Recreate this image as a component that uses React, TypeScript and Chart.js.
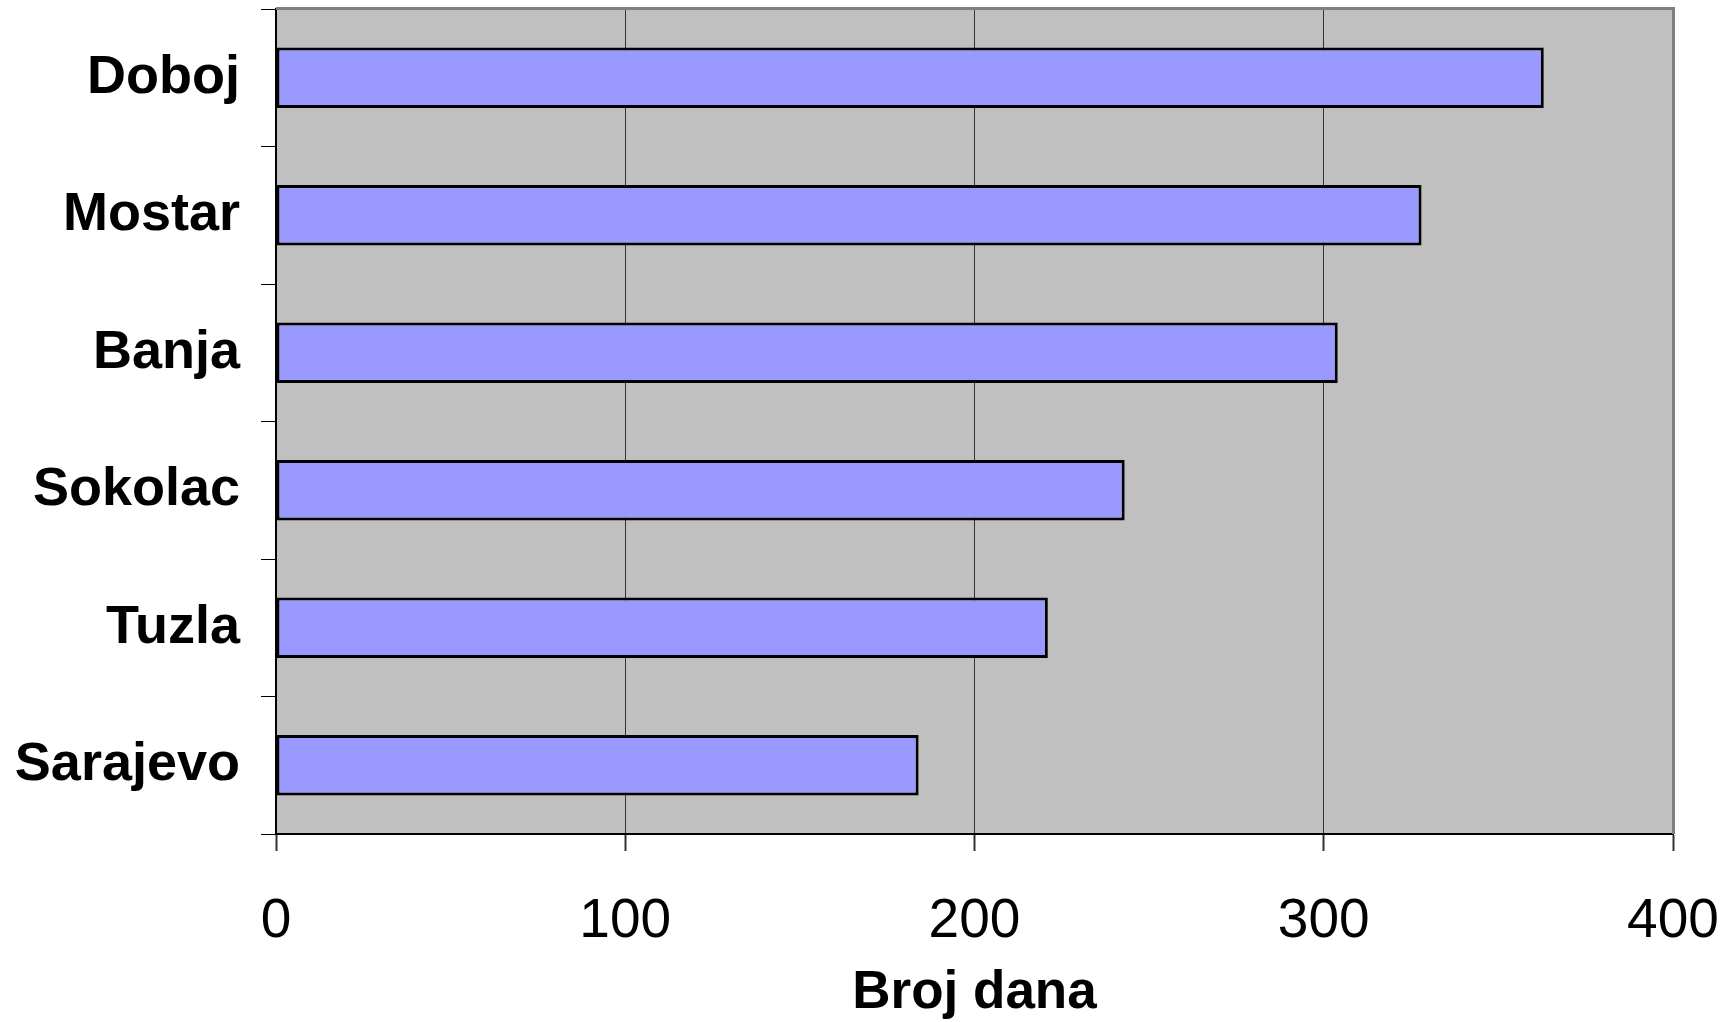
import React, { useEffect, useRef } from "react";
import { Chart, registerables } from "chart.js";

Chart.register(...registerables);

const categories: string[] = ["Doboj", "Mostar", "Banja", "Sokolac", "Tuzla", "Sarajevo"];
const values: number[] = [363, 328, 304, 243, 221, 184];
const xTickValues: number[] = [0, 100, 200, 300, 400];
const axisTitle = "Broj dana";

const FONT = "'Liberation Sans', Arial, sans-serif";

const plotBg = {
  id: "plotBg",
  beforeDraw(chart: any) {
    const { ctx, chartArea } = chart;
    if (!chartArea) return;
    ctx.save();
    ctx.fillStyle = "#C0C0C0";
    ctx.fillRect(chartArea.left, chartArea.top, chartArea.right - chartArea.left, chartArea.bottom - chartArea.top);
    ctx.restore();
  },
  afterDraw(chart: any) {
    const { ctx, chartArea } = chart;
    if (!chartArea) return;
    ctx.save();
    ctx.strokeStyle = "#808080";
    ctx.lineWidth = 3;
    ctx.beginPath();
    ctx.moveTo(chartArea.left, chartArea.top - 0.5);
    ctx.lineTo(chartArea.right + 0.5, chartArea.top - 0.5);
    ctx.lineTo(chartArea.right + 0.5, chartArea.bottom);
    ctx.stroke();
    ctx.restore();
  },
};

export default function App() {
  const ref = useRef<HTMLCanvasElement | null>(null);
  useEffect(() => {
    if (!ref.current) return;
    const chart = new Chart(ref.current, {
      type: "bar",
      data: {
        labels: categories,
        datasets: [
          {
            data: values,
            backgroundColor: "#9999FF",
            borderColor: "#000000",
            borderWidth: 3,
            borderSkipped: false,
            categoryPercentage: 1,
            barPercentage: 0.44,
          },
        ],
      },
      plugins: [plotBg],
      options: {
        indexAxis: "y",
        animation: false,
        responsive: false,
        maintainAspectRatio: false,
        layout: { padding: { top: 9, right: 62, left: 0, bottom: 0 } },
        plugins: {
          legend: { display: false },
          tooltip: { enabled: false },
          title: { display: false },
        },
        scales: {
          x: {
            type: "linear",
            min: 0,
            max: 400,
            afterBuildTicks: (scale: any) => {
              scale.ticks = xTickValues.map((v) => ({ value: v }));
            },
            afterFit: (scale: any) => {
              scale.height = 188;
              scale.paddingLeft = 0;
              scale.paddingRight = 0;
            },
            grid: {
              color: "#333333",
              lineWidth: 1,
              drawTicks: true,
              tickLength: 17,
              tickColor: "#333333",
              tickWidth: 2,
            },
            border: { color: "#000000", width: 2 },
            ticks: {
              color: "#000000",
              padding: 38,
              font: { family: FONT, size: 55 },
              maxRotation: 0,
              autoSkip: false,
            },
            title: {
              display: true,
              text: axisTitle,
              color: "#000000",
              font: { family: FONT, size: 53, weight: "bold" },
              padding: { top: 0, bottom: -3 },
            },
          },
          y: {
            type: "category",
            afterFit: (scale: any) => {
              scale.width = 276;
              scale.paddingTop = 0;
              scale.paddingBottom = 0;
            },
            grid: {
              display: true,
              drawOnChartArea: false,
              drawTicks: true,
              tickLength: 15,
              tickColor: "#000000",
              tickWidth: 1,
              offset: true,
            },
            border: { color: "#000000", width: 2 },
            ticks: {
              color: "#000000",
              padding: 21,
              font: { family: FONT, size: 54, weight: "bold" },
              autoSkip: false,
            },
          },
        },
      },
    });
    return () => chart.destroy();
  }, []);
  return (
    <div style={{ position: "fixed", left: 0, top: 0, width: 1735, height: 1022, background: "#fff" }}>
      <canvas ref={ref} width={1735} height={1022} style={{ width: 1735, height: 1022, display: "block" }} />
    </div>
  );
}
